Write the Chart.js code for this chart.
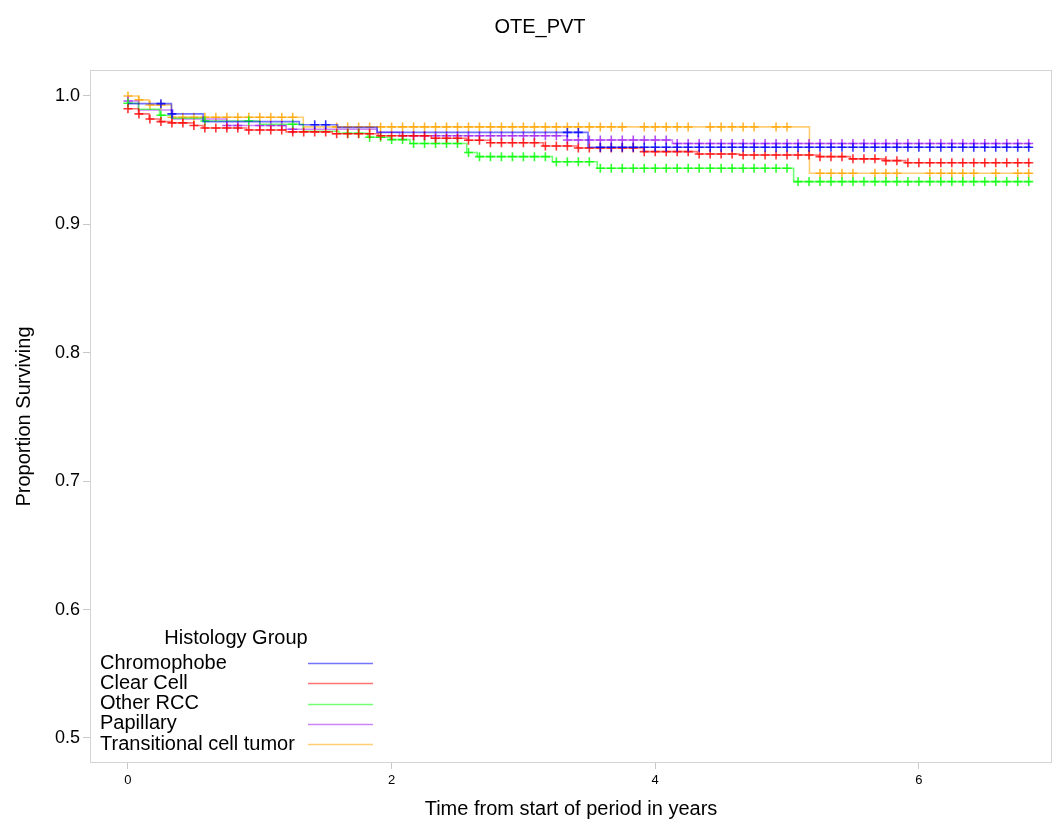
<!DOCTYPE html>
<html>
<head>
<meta charset="utf-8">
<script src="https://cdn.jsdelivr.net/npm/chart.js@4.4.0/dist/chart.umd.min.js"></script>
<style>
  html, body { margin: 0; padding: 0; background: #fff; }
  #wrap { width: 1053px; height: 823px; }
</style>
</head>
<body>
<div id="wrap"><canvas id="kmChart" width="1053" height="823"></canvas></div>
<script>
const chartTitle = "OTE_PVT";
const legendTitle = "Histology Group";
const groupNames = ["Chromophobe", "Clear Cell", "Other RCC", "Papillary", "Transitional cell tumor"];
const groupColors = ["#0000ff", "#ff0000", "#00ff00", "#a020f0", "#ffa500"];

const xTicks = [0, 2, 4, 6];
const yTicks = [0.5, 0.6, 0.7, 0.8, 0.9, 1.0];

// Kaplan-Meier steps: time in years, proportion surviving from that time on
const chromTime = [0, 0.33, 0.57, 1.30, 1.59, 1.89, 3.49, 6.85];
const chromSurv = [0.994, 0.986, 0.980, 0.9776, 0.9755, 0.9716, 0.960, 0.960];

const clearTime = [0, 0.08, 0.16, 0.24, 0.33, 0.50, 0.57, 0.90, 1.20, 1.55, 1.90, 2.30, 2.57, 2.75, 3.15, 3.41, 3.91, 4.32, 4.64, 5.24, 5.48, 5.74, 5.90, 6.85];
const clearSurv = [0.990, 0.986, 0.982, 0.980, 0.979, 0.977, 0.975, 0.9735, 0.972, 0.9705, 0.969, 0.967, 0.9655, 0.9635, 0.961, 0.9595, 0.9566, 0.9548, 0.954, 0.9527, 0.951, 0.9496, 0.948, 0.948];

const otherTime = [0, 0.08, 0.24, 0.33, 0.57, 1.00, 1.33, 1.60, 1.82, 1.99, 2.14, 2.57, 2.65, 3.22, 3.56, 5.05, 6.85];
const otherSurv = [0.9943, 0.9896, 0.985, 0.9826, 0.9805, 0.978, 0.9725, 0.971, 0.9678, 0.966, 0.963, 0.9559, 0.9527, 0.9488, 0.9437, 0.9333, 0.9333];

const papTime = [0, 0.08, 0.34, 0.75, 1.20, 1.89, 2.06, 3.33, 4.13, 6.85];
const papSurv = [0.996, 0.989, 0.982, 0.977, 0.974, 0.9717, 0.969, 0.9657, 0.963, 0.963];

const transTime = [0, 0.08, 0.16, 0.33, 1.33, 5.17, 6.85];
const transSurv = [1.0, 0.9969, 0.993, 0.9834, 0.9759, 0.9398, 0.9398];

// censored observations (+), months from start of period
const chromCensor = [3, 4, 17, 18, 40, 41, 43, 44, 45, 46, 47, 48, 49, 50, 51, 52, 53, 54, 55, 56, 57, 58, 59, 60, 61, 62, 63, 64, 65, 66, 67, 68, 69, 70, 71, 72, 73, 74, 75, 76, 77, 78, 79, 80, 81, 82];
const clearCensor = [0, 1, 2, 3, 4, 5, 6, 7, 8, 9, 10, 11, 12, 13, 14, 15, 16, 17, 18, 19, 20, 21, 22, 23, 24, 25, 26, 27, 28, 29, 30, 31, 32, 33, 34, 35, 36, 37, 38, 39, 40, 41, 42, 43, 44, 45, 46, 47, 48, 49, 50, 51, 52, 53, 54, 55, 56, 57, 58, 59, 60, 61, 62, 63, 64, 65, 66, 67, 68, 69, 70, 71, 72, 73, 74, 75, 76, 77, 78, 79, 80, 81, 82];
const otherCensor = [0, 3, 7, 11, 15, 20, 21, 22, 23, 24, 25, 26, 27, 28, 29, 30, 31, 32, 33, 34, 35, 36, 37, 38, 39, 40, 41, 42, 43, 44, 45, 46, 47, 48, 49, 50, 51, 52, 53, 54, 55, 56, 57, 58, 59, 60, 61, 62, 63, 64, 65, 66, 67, 68, 69, 70, 71, 72, 73, 74, 75, 76, 77, 78, 79, 80, 81, 82];
const papCensor = [0, 9, 10, 12, 13, 14, 15, 25, 26, 27, 28, 29, 30, 31, 32, 33, 34, 35, 36, 37, 38, 39, 40, 41, 42, 43, 44, 45, 46, 47, 48, 49, 50, 51, 52, 53, 54, 55, 56, 57, 58, 59, 60, 61, 62, 63, 64, 65, 66, 67, 68, 69, 70, 71, 72, 73, 74, 75, 76, 77, 78, 79, 80, 81, 82];
const transCensor = [0, 1, 2, 3, 4, 5, 6, 7, 8, 9, 10, 11, 12, 13, 14, 15, 19, 20, 21, 22, 23, 24, 25, 26, 27, 28, 29, 30, 31, 32, 33, 34, 35, 36, 37, 38, 39, 40, 41, 42, 43, 44, 45, 47, 48, 49, 50, 51, 53, 54, 55, 56, 57, 59, 60, 63, 64, 65, 66, 68, 69, 70, 73, 74, 75, 76, 77, 79, 81, 82];

const FONT = '"Liberation Sans", Arial, sans-serif';
Chart.defaults.font.family = FONT;
Chart.defaults.color = "#000";

function rgba(hex, a) {
    const n = parseInt(hex.slice(1), 16);
    return `rgba(${(n >> 16) & 255}, ${(n >> 8) & 255}, ${n & 255}, ${a})`;
}

// survival value in effect at time t (step function)
function survAt(times, surv, t) {
    let s = surv[0];
    for (let i = 0; i < times.length; i++) {
        if (times[i] <= t + 1e-9) s = surv[i];
    }
    return s;
}

const groups = [
    { time: chromTime, surv: chromSurv, censor: chromCensor },
    { time: clearTime, surv: clearSurv, censor: clearCensor },
    { time: otherTime, surv: otherSurv, censor: otherCensor },
    { time: papTime, surv: papSurv, censor: papCensor },
    { time: transTime, surv: transSurv, censor: transCensor }
];

const datasets = [];
groups.forEach((g, i) => {
    datasets.push({
        label: groupNames[i],
        isCurve: true,
        data: g.time.map((t, j) => ({ x: t, y: g.surv[j] })),
        showLine: true,
        stepped: "before",
        borderColor: rgba(groupColors[i], 0.55),
        borderWidth: 1.6,
        pointRadius: 0
    });
    datasets.push({
        label: groupNames[i] + " (censored)",
        data: g.censor.map(m => ({ x: m / 12, y: survAt(g.time, g.surv, m / 12) })),
        showLine: false,
        pointStyle: "cross",
        pointRadius: 4.5,
        borderColor: rgba(groupColors[i], 0.8),
        borderWidth: 1.6
    });
});

// light frame round the plot area
const framePlugin = {
    id: "frame",
    beforeDatasetsDraw(chart) {
        const { ctx, chartArea: a } = chart;
        ctx.save();
        ctx.strokeStyle = "#d4d4d4";
        ctx.lineWidth = 1;
        ctx.strokeRect(a.left + 0.5, a.top + 0.5, a.width - 1, a.height - 1);
        ctx.restore();
    }
};

// title and inside legend (text left, line sample right)
const textPlugin = {
    id: "texts",
    afterDraw(chart) {
        const { ctx, chartArea: a } = chart;
        ctx.save();
        ctx.fillStyle = "#000";
        ctx.font = "20px " + FONT;
        ctx.textBaseline = "middle";
        ctx.textAlign = "center";
        ctx.fillText(chartTitle, 540, 27);

        ctx.fillText(legendTitle, a.left + 146, a.bottom - 125);
        ctx.textAlign = "left";
        const curves = chart.data.datasets.filter(d => d.isCurve);
        curves.forEach((d, i) => {
            const y = a.bottom - 100 + i * 20.3;
            ctx.fillStyle = "#000";
            ctx.fillText(d.label, a.left + 10, y);
            ctx.strokeStyle = d.borderColor;
            ctx.lineWidth = 1.5;
            ctx.beginPath();
            ctx.moveTo(a.left + 218, Math.round(y) + 0.5);
            ctx.lineTo(a.left + 283, Math.round(y) + 0.5);
            ctx.stroke();
        });
        ctx.restore();
    }
};

new Chart(document.getElementById("kmChart"), {
    type: "scatter",
    data: { datasets: datasets },
    options: {
        responsive: false,
        animation: false,
        layout: { autoPadding: false, padding: { top: 70, right: 1, left: 0, bottom: 0 } },
        plugins: {
            legend: { display: false },
            tooltip: { enabled: false },
            title: { display: false }
        },
        scales: {
            x: {
                type: "linear",
                min: -0.288,
                max: 7.01,
                afterBuildTicks: s => { s.ticks = xTicks.map(v => ({ value: v })); },
                afterFit: s => { s.height = 60; s.paddingLeft = 0; s.paddingRight = 0; },
                border: { display: false },
                grid: { drawOnChartArea: false, drawTicks: true, tickLength: 6, color: "#c8c8c8" },
                ticks: { font: { size: 13 }, padding: 4, maxRotation: 0, callback: v => String(v) },
                title: {
                    display: true,
                    text: "Time from start of period in years",
                    font: { size: 20 },
                    padding: { top: 0, bottom: 2 }
                }
            },
            y: {
                type: "linear",
                min: 0.4805,
                max: 1.0202,
                afterBuildTicks: s => { s.ticks = yTicks.map(v => ({ value: v })); },
                afterFit: s => { s.width = 90; },
                border: { display: false },
                grid: { drawOnChartArea: false, drawTicks: true, tickLength: 7, color: "#c8c8c8" },
                ticks: { font: { size: 18 }, padding: 3, callback: v => v.toFixed(1) },
                title: {
                    display: true,
                    text: "Proportion Surviving",
                    font: { size: 20 },
                    padding: { top: 12, bottom: 0 }
                }
            }
        }
    },
    plugins: [framePlugin, textPlugin]
});
</script>
</body>
</html>
